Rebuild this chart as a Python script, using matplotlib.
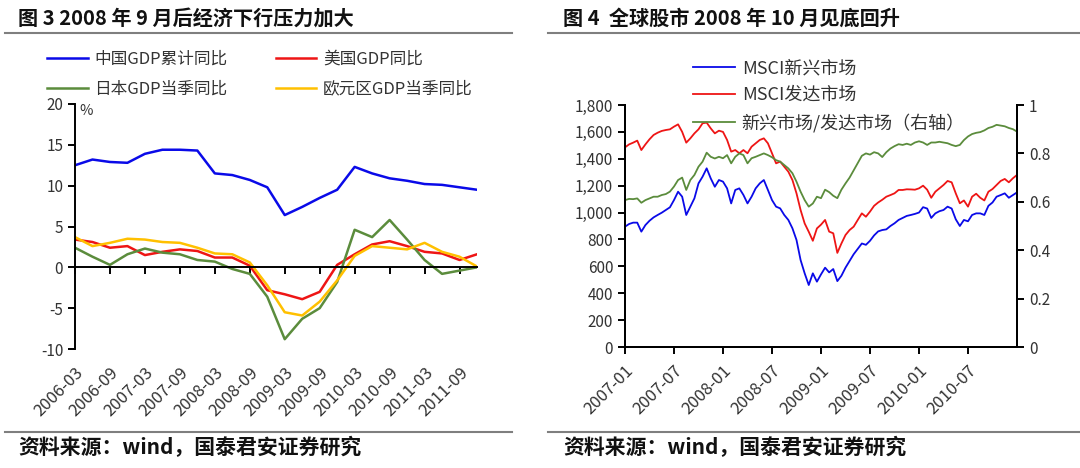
import numpy as np
import matplotlib.pyplot as plt
from matplotlib.lines import Line2D
from matplotlib.ticker import FuncFormatter

plt.rcParams['font.family'] = ['Noto Sans CJK SC', 'DejaVu Sans']
plt.rcParams['axes.unicode_minus'] = False

# ---------------- 图3: 季度 GDP 同比 (2006Q1 - 2011Q4) ----------------
quarters = [f"{y}-{m:02d}" for y in range(2006, 2012) for m in (3, 6, 9, 12)]
china_gdp = [12.5, 13.2, 12.9, 12.8, 13.9, 14.4, 14.4, 14.3, 11.5, 11.3, 10.7, 9.8,
             6.4, 7.4, 8.5, 9.5, 12.3, 11.5, 10.9, 10.6, 10.2, 10.1, 9.8, 9.5]
us_gdp = [3.4, 3.1, 2.4, 2.6, 1.5, 1.9, 2.2, 2.0, 1.2, 1.2, 0.2, -2.8,
          -3.3, -3.9, -3.0, 0.3, 1.6, 2.8, 3.2, 2.6, 1.9, 1.7, 0.9, 1.6]
japan_gdp = [2.4, 1.3, 0.3, 1.6, 2.3, 1.8, 1.6, 0.9, 0.7, -0.2, -0.8, -3.6,
             -8.8, -6.3, -5.0, -1.8, 4.6, 3.7, 5.8, 3.4, 0.9, -0.8, -0.4, 0.0]
euro_gdp = [3.7, 2.6, 3.0, 3.5, 3.4, 3.1, 3.0, 2.4, 1.7, 1.6, 0.6, -2.2,
            -5.5, -5.9, -4.2, -1.6, 1.4, 2.6, 2.4, 2.2, 3.0, 1.9, 1.3, 0.1]

# ---------------- 图4: MSCI 指数 (2007-01 起, 每半月读数) ----------------
msci_em = [895, 915, 925, 925, 858, 907, 939, 964, 982, 999, 1019, 1039,
           1093, 1155, 1118, 982, 1044, 1106, 1217, 1267, 1329, 1254, 1192, 1242,
           1230, 1180, 1068, 1168, 1180, 1131, 1068, 1118, 1180, 1217, 1242, 1168,
           1093, 1044, 1031, 982, 945, 883, 796, 647, 548, 461, 548, 486,
           540, 590, 555, 580, 490, 530, 590, 640, 690, 730, 770, 760,
           790, 830, 860, 870, 875, 900, 920, 945, 960, 975, 982, 990,
           1000, 1040, 1030, 960, 994, 1010, 1019, 1044, 1030, 950, 900, 945,
           935, 982, 994, 994, 982, 1050, 1075, 1118, 1130, 1143, 1110, 1130, 1150]
msci_dm = [1485, 1507, 1520, 1535, 1465, 1507, 1545, 1577, 1594, 1607, 1614, 1619,
           1639, 1656, 1600, 1520, 1552, 1589, 1619, 1664, 1669, 1626, 1589, 1609,
           1600, 1540, 1453, 1465, 1441, 1465, 1441, 1490, 1515, 1540, 1552, 1515,
           1441, 1366, 1379, 1341, 1304, 1242, 1143, 1019, 919, 857, 790, 882,
           910, 945, 858, 846, 700, 770, 833, 870, 895, 945, 994, 969,
           1007, 1050, 1075, 1095, 1118, 1130, 1143, 1168, 1168, 1173, 1172, 1170,
           1180, 1200, 1170, 1110, 1155, 1180, 1205, 1235, 1225, 1143, 1069, 1090,
           1044, 1118, 1140, 1110, 1090, 1155, 1175, 1205, 1235, 1250, 1225, 1255, 1280]
em_dm_ratio = [0.607, 0.612, 0.611, 0.614, 0.596, 0.607, 0.614, 0.621, 0.621, 0.628, 0.632, 0.642,
               0.663, 0.690, 0.700, 0.649, 0.690, 0.711, 0.745, 0.766, 0.803, 0.786, 0.779, 0.786,
               0.780, 0.793, 0.759, 0.786, 0.800, 0.793, 0.759, 0.780, 0.786, 0.793, 0.800, 0.793,
               0.784, 0.772, 0.766, 0.752, 0.738, 0.718, 0.683, 0.642, 0.607, 0.580, 0.593, 0.621,
               0.615, 0.650, 0.640, 0.625, 0.615, 0.650, 0.676, 0.700, 0.730, 0.760, 0.790, 0.800,
               0.795, 0.805, 0.800, 0.785, 0.805, 0.820, 0.830, 0.838, 0.835, 0.840, 0.835, 0.845,
               0.850, 0.845, 0.835, 0.845, 0.845, 0.848, 0.845, 0.842, 0.835, 0.830, 0.835, 0.855,
               0.870, 0.880, 0.885, 0.888, 0.895, 0.905, 0.910, 0.918, 0.915, 0.912, 0.905, 0.900, 0.890]
month_ticks = [f"{y}-{m:02d}" for y in range(2007, 2011) for m in (1, 7)]

BLUE = '#0A0AE8'
RED = '#EE1515'
GREEN = '#5B8C3C'
YELLOW = '#FFC000'
TXT = '#333333'

W, H = 1080, 468
fig = plt.figure(figsize=(W / 100, H / 100), dpi=100)


def fx(px):
    return px / W


def fy(px):
    return 1 - px / H


# ---------------- 标题, 分隔线, 资料来源 ----------------
fig.text(fx(18), fy(18), '图 3 2008 年 9 月后经济下行压力加大', fontsize=14.5,
         fontweight='bold', va='center', color='#111111')
fig.text(fx(563), fy(18), '图 4  全球股市 2008 年 10 月见底回升', fontsize=14.5,
         fontweight='bold', va='center', color='#111111')
for x0, x1 in [(5, 512), (548, 1080)]:
    fig.add_artist(Line2D([fx(x0), fx(x1)], [fy(33), fy(33)], color='#7F7F7F', lw=1.5))
    fig.add_artist(Line2D([fx(x0), fx(x1)], [fy(432), fy(432)], color='#7F7F7F', lw=1.5))
fig.text(fx(18), fy(447), '资料来源：wind，国泰君安证券研究', fontsize=15,
         fontweight='bold', va='center', color='#111111')
fig.text(fx(563), fy(447), '资料来源：wind，国泰君安证券研究', fontsize=15,
         fontweight='bold', va='center', color='#111111')

# ---------------- 图3 ----------------
ax1 = fig.add_axes([fx(75), fy(349), fx(477) - fx(75), fy(104) - fy(349)])
x = np.arange(len(quarters))
ax1.plot(x, china_gdp, color=BLUE, lw=1.8, label='中国GDP累计同比')
ax1.plot(x, us_gdp, color=RED, lw=1.8, label='美国GDP同比')
ax1.plot(x, japan_gdp, color=GREEN, lw=1.8, label='日本GDP当季同比')
ax1.plot(x, euro_gdp, color=YELLOW, lw=1.8, label='欧元区GDP当季同比')
ax1.set_xlim(0, len(quarters) - 1)
ax1.set_ylim(-10, 20)
ax1.set_yticks(range(-10, 21, 5))
for s in ['top', 'right']:
    ax1.spines[s].set_visible(False)
ax1.spines['left'].set_linewidth(1.4)
ax1.spines['bottom'].set_position(('data', 0))
ax1.spines['bottom'].set_linewidth(1.4)
ax1.tick_params(axis='y', direction='out', length=5, width=1.4, labelsize=11, labelcolor=TXT)
ax1.set_xticks(x[::2])
ax1.tick_params(axis='x', direction='out', length=5, width=1.4, labelbottom=False)
sec = ax1.secondary_xaxis('bottom')
sec.set_xticks(x[::2], quarters[::2], rotation=45, ha='right', va='top', rotation_mode='anchor')
sec.tick_params(length=0, pad=11, labelsize=12, labelcolor=TXT)
sec.spines['bottom'].set_visible(False)
ax1.text(0.01, 1.0, '%', transform=ax1.transAxes, fontsize=10.5, color=TXT, va='top')

# 图例按行排列: 第一行 中国/美国, 第二行 日本/欧元区
h1, l1 = ax1.get_legend_handles_labels()
order = [0, 2, 1, 3]
fig.legend([h1[i] for i in order], [l1[i] for i in order], loc='upper left',
           bbox_to_anchor=(fx(47), fy(51)), ncol=2, frameon=False,
           fontsize=12, handlelength=2.45, handletextpad=0.38, columnspacing=2.9,
           labelspacing=0.75, borderpad=0, borderaxespad=0, labelcolor=TXT)

# ---------------- 图4 ----------------
ax2 = fig.add_axes([fx(625), fy(347), fx(1017) - fx(625), fy(105) - fy(347)])
ax2r = ax2.twinx()
m = np.arange(len(msci_em)) * 0.5
ax2.plot(m, msci_em, color=BLUE, lw=1.3, label='MSCI新兴市场')
ax2.plot(m, msci_dm, color=RED, lw=1.3, label='MSCI发达市场')
ax2r.plot(m, em_dm_ratio, color=GREEN, lw=1.3, label='新兴市场/发达市场（右轴）')
ax2.set_xlim(0, 48)
ax2.set_ylim(0, 1800)
ax2r.set_ylim(0, 1)
ax2.set_yticks(range(0, 1801, 200))
ax2.yaxis.set_major_formatter(FuncFormatter(lambda v, p: f"{v:,.0f}"))
ax2r.set_yticks(np.arange(0, 1.01, 0.2))
ax2r.yaxis.set_major_formatter(FuncFormatter(lambda v, p: f"{v:g}"))
ax2.set_xticks(np.arange(0, 48, 6), month_ticks, rotation=45, ha='right', va='top',
               rotation_mode='anchor')
for a in (ax2, ax2r):
    a.spines['top'].set_visible(False)
    for s in ['left', 'right', 'bottom']:
        a.spines[s].set_linewidth(1.4)
ax2.tick_params(axis='both', direction='out', length=5, width=1.4, labelsize=11, labelcolor=TXT)
ax2.tick_params(axis='x', pad=6, labelsize=12)
ax2r.tick_params(axis='y', direction='out', length=5, width=1.4, labelsize=11, labelcolor=TXT)

h2, l2 = ax2.get_legend_handles_labels()
h3, l3 = ax2r.get_legend_handles_labels()
fig.legend(h2 + h3, l2 + l3, loc='upper left', bbox_to_anchor=(fx(693), fy(59)), ncol=1,
           frameon=False, fontsize=13, handlelength=2.35, handletextpad=0.35,
           labelspacing=0.5, borderpad=0, borderaxespad=0, labelcolor=TXT)

fig.savefig('out.png', dpi=100)
